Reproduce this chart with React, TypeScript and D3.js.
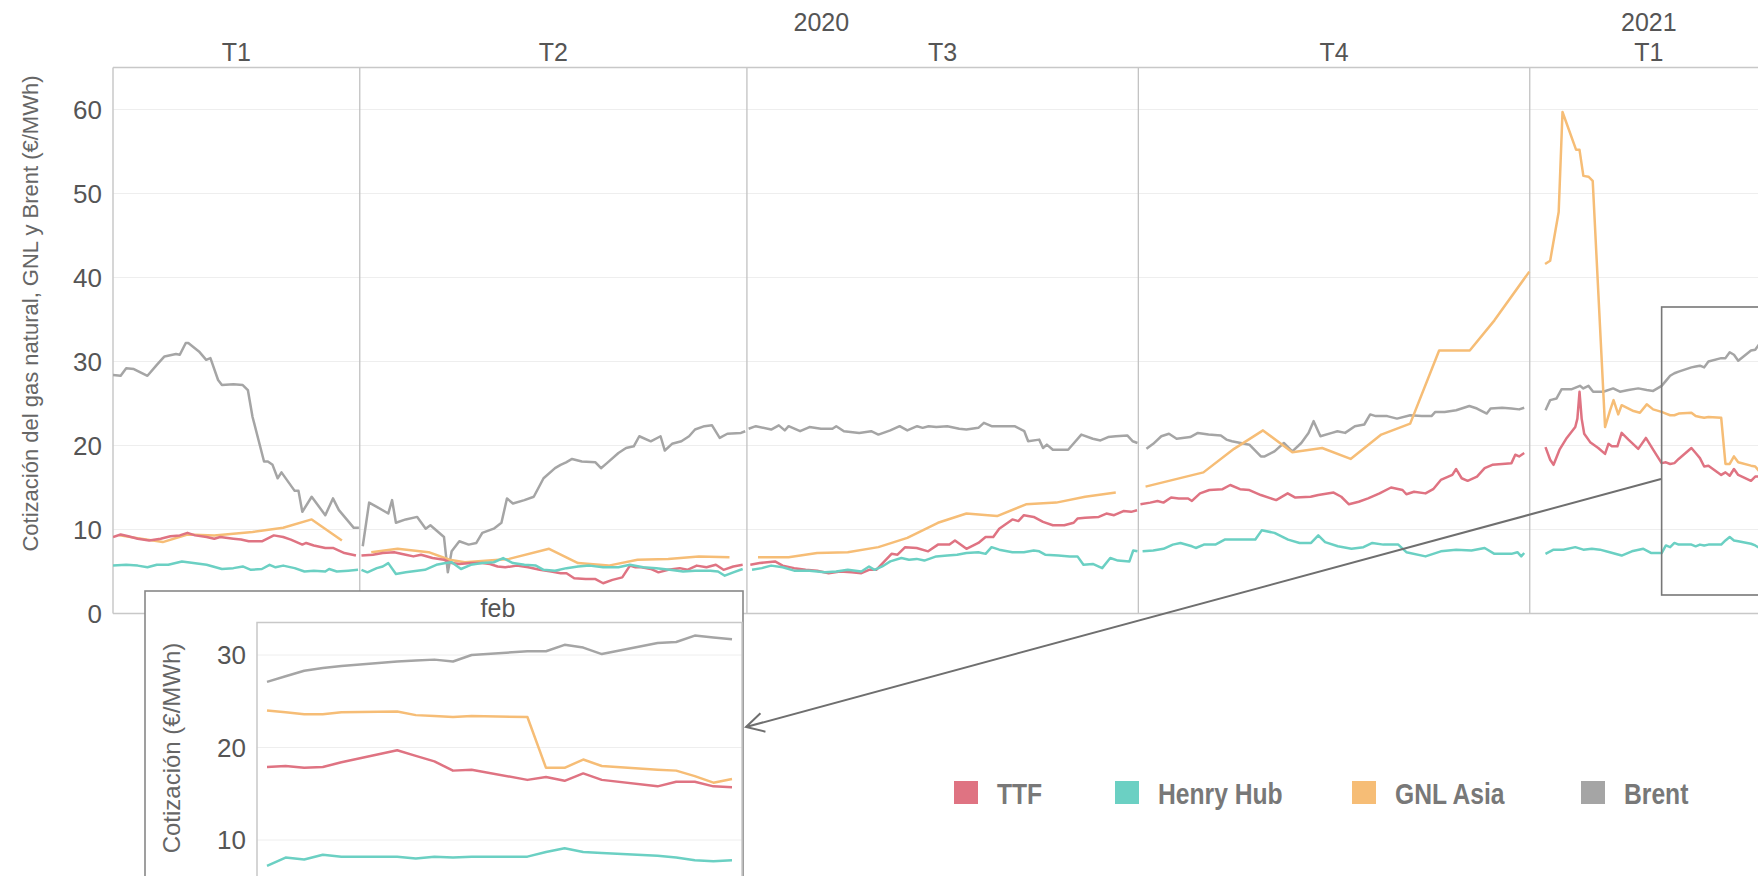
import * as d3 from 'd3';

// Inicio y fin del eje temporal principal
const INICIO = new Date(2020, 1, 3);
const FIN = new Date(2021, 1, 26);

// [días desde el 3-feb-2020, €/MWh]  (hasta finales de enero 2021; febrero va aparte)
const brent: [number, number][] = [
  [0, 28.4], [1.8, 28.3], [3.1, 29.2], [4.9, 29.1], [8.1, 28.3], [10.3, 29.6], [12.1, 30.6], [14.8, 30.9], [15.7, 30.8],
  [17.1, 32.2], [17.7, 32.2], [20.2, 31.2], [21.9, 30.2], [22.9, 30.4], [24.7, 27.8], [25.6, 27.2], [28.3, 27.3],
  [30.5, 27.2], [31.7, 26.6], [32.8, 23.4], [35.5, 18.1], [36.4, 18.1], [37.5, 17.7], [38.7, 16.1], [39.6, 16.8],
  [42.7, 14.6], [43.6, 14.6], [44.5, 12.1], [46.7, 13.9], [49.9, 11.7], [51.7, 13.7], [53.1, 12.3], [56.6, 10.2], [57.8, 10.2],
  [58.7, 8.0], [60.2, 13.2], [62.0, 12.7], [64.7, 11.9], [65.6, 13.5], [66.5, 10.8], [68.8, 11.2], [71.5, 11.5], [73.5, 10.1],
  [74.6, 10.5], [77.8, 9.1], [78.7, 4.9], [79.6, 7.4], [81.4, 8.6], [83.6, 8.2], [85.4, 8.4], [86.8, 9.6], [89.5, 10.1],
  [91.3, 10.8], [92.6, 13.7], [94.0, 13.1], [96.7, 13.5], [98.9, 13.9], [101.2, 16.1], [103.9, 17.3], [105.2, 17.7],
  [106.5, 18.0], [107.9, 18.4], [110.2, 18.1], [113.4, 18.0], [114.7, 17.3], [116.1, 17.9], [118.8, 19.1], [120.6, 19.7],
  [122.4, 19.9], [123.7, 21.1], [126.4, 20.5], [128.7, 21.1], [129.7, 19.4], [131.4, 20.2], [133.6, 20.5], [135.4, 21.1],
  [136.8, 21.9], [139.0, 22.3], [140.8, 22.4], [142.6, 20.9], [144.4, 21.4], [147.6, 21.5], [148.6, 21.7],
  [149.4, 22.0], [151.1, 22.3], [154.7, 21.9], [156.5, 22.4], [157.9, 21.8], [158.8, 22.3], [161.5, 21.7], [163.7, 22.2],
  [166.4, 22.0], [169.1, 22.0], [170.0, 22.3], [171.8, 21.7], [175.4, 21.5], [178.2, 21.7], [179.9, 21.3], [182.7, 21.8],
  [184.9, 22.3], [186.7, 21.8], [189.0, 22.3], [190.3, 22.1], [191.7, 22.3], [193.5, 22.2], [196.1, 22.3], [198.9, 22.0],
  [200.6, 21.9], [203.4, 22.1], [204.7, 22.7], [206.5, 22.3], [209.3, 22.3], [211.9, 22.3], [214.2, 21.7], [215.1, 20.5],
  [217.7, 20.7], [218.6, 19.7], [219.5, 20.1], [220.9, 19.5], [224.5, 19.5], [227.6, 21.3], [230.3, 20.8], [232.1, 20.6],
  [233.9, 21.0], [235.7, 21.1], [238.4, 21.2], [239.7, 20.5], [240.8, 20.3],
  [242.9, 19.6], [244.5, 20.2], [246.4, 21.1], [248.2, 21.4], [250.0, 20.8], [253.2, 21.0], [255.0, 21.5], [257.5, 21.3],
  [260.4, 21.2], [261.7, 20.7], [263.0, 20.5], [267.1, 20.1], [269.8, 18.7], [270.7, 18.7], [273.0, 19.3], [275.2, 20.3],
  [277.2, 19.3], [279.3, 20.3], [281.0, 21.5], [282.2, 22.9], [283.8, 21.1], [286.5, 21.5], [287.8, 21.7], [289.6, 21.5],
  [291.9, 22.3], [294.1, 22.5], [295.5, 23.7], [296.8, 23.5], [299.5, 23.5], [301.8, 23.2], [304.9, 23.6], [307.6, 23.5],
  [309.9, 23.5], [310.8, 24.0], [313.0, 24.0], [315.7, 24.2], [318.8, 24.7], [320.6, 24.4], [322.9, 23.8], [323.8, 24.4],
  [326.5, 24.5], [328.7, 24.4], [330.5, 24.3], [331.7, 24.5],
  [336.7, 24.2], [337.8, 25.4], [339.3, 25.6], [340.5, 26.7], [342.9, 26.7], [344.8, 27.1], [345.6, 26.8], [346.8, 27.1],
  [347.9, 26.4], [350.3, 26.4], [352.6, 26.8], [354.2, 26.4], [356.2, 26.6], [358.5, 26.8], [360.5, 26.6], [362.0, 26.5],
];

const ttf: [number, number][] = [
  [0, 9.1], [1.8, 9.4], [3.6, 9.2], [5.8, 8.9], [8.5, 8.7], [11.2, 8.9], [13.5, 9.2], [15.7, 9.3], [17.5, 9.6], [19.3, 9.3],
  [22.0, 9.1], [23.8, 8.9], [25.2, 9.1], [28.3, 8.9], [30.1, 8.8], [31.9, 8.6], [33.3, 8.6], [35.0, 8.6], [37.8, 9.3],
  [40.0, 9.1], [41.8, 8.8], [44.5, 8.2], [45.4, 8.4], [47.2, 8.1], [49.9, 7.8], [51.7, 7.8], [54.4, 7.2], [57.1, 6.9],
  [58.4, 6.9], [61.1, 7.0], [63.4, 7.2], [66.1, 7.3], [68.8, 7.0], [70.6, 6.8], [72.4, 7.0], [75.1, 6.6], [77.8, 6.4],
  [79.6, 6.0], [81.4, 5.9], [84.1, 6.0], [86.8, 6.0], [88.6, 5.9], [90.4, 5.6], [92.2, 5.5], [94.9, 5.7], [97.6, 5.5],
  [100.3, 5.2], [103.0, 5.0], [105.2, 4.8], [106.6, 4.8], [108.4, 4.2], [111.1, 4.1], [113.4, 4.1], [115.2, 3.6],
  [117.4, 4.0], [119.7, 4.3], [121.5, 5.7], [122.8, 5.5], [124.2, 5.5], [126.4, 5.3], [128.2, 4.9], [130.5, 5.2],
  [133.2, 5.4], [135.0, 5.2], [137.2, 5.7], [139.5, 5.5], [141.7, 5.8], [143.5, 5.2], [145.8, 5.6], [148.0, 5.8],
  [149.8, 5.8], [152.0, 6.0], [155.6, 6.2], [157.4, 5.7], [160.1, 5.4], [162.8, 5.2], [165.5, 5.1], [168.2, 4.8],
  [170.9, 5.0], [173.6, 4.9], [175.9, 4.8], [177.7, 5.2], [179.4, 5.2], [181.7, 6.4], [183.0, 7.1], [184.4, 7.0],
  [186.2, 7.9], [188.9, 7.8], [191.6, 7.4], [193.9, 8.2], [196.6, 8.2], [197.9, 8.7], [200.6, 7.7], [203.4, 8.4],
  [205.1, 9.1], [206.9, 9.1], [208.3, 10.1], [211.4, 11.2], [212.8, 11.0], [214.1, 11.7], [216.4, 11.5], [218.6, 10.9],
  [220.9, 10.5], [223.6, 10.5], [225.8, 10.8], [226.7, 11.3], [228.5, 11.4], [231.7, 11.5], [233.5, 11.9], [235.3, 11.7],
  [237.5, 12.2], [239.3, 12.1], [240.7, 12.3],
  [241.5, 13.0], [243.8, 13.2], [245.5, 13.4], [246.9, 13.2], [248.7, 13.8], [250.5, 13.7], [252.7, 13.7], [253.6, 13.4],
  [255.5, 14.3], [257.7, 14.7], [260.8, 14.8], [262.6, 15.3], [264.9, 14.8], [267.1, 14.7], [269.8, 14.1], [273.4, 13.5],
  [276.1, 14.3], [277.9, 13.8], [281.5, 13.9], [283.3, 14.1], [286.9, 14.4], [288.7, 13.9], [290.5, 13.0], [292.8, 13.3],
  [295.0, 13.7], [297.7, 14.3], [300.4, 15.0], [303.1, 14.7], [304.0, 14.2], [305.8, 14.5], [308.5, 14.3], [310.3, 14.8],
  [312.1, 15.9], [314.8, 16.5], [315.7, 17.2], [317.0, 16.1], [318.4, 15.8], [320.6, 16.3], [322.4, 17.3], [324.2, 17.7],
  [326.5, 17.8], [328.7, 17.9], [329.6, 18.9], [330.5, 18.7], [331.7, 19.1],
  [336.7, 19.8], [337.8, 18.3], [338.6, 17.7], [340.0, 19.5], [341.7, 20.9], [343.7, 22.2], [344.2, 23.2], [344.7, 26.4],
  [345.2, 23.2], [345.8, 21.4], [347.2, 20.4], [349.1, 19.7], [350.7, 19.0], [351.5, 20.2], [352.3, 19.9], [353.6, 19.9],
  [354.6, 21.5], [356.2, 20.7], [358.5, 19.6], [360.3, 20.9], [362.0, 19.5],
];

const henryHub: [number, number][] = [
  [0, 5.7], [3.1, 5.8], [5.8, 5.7], [8.1, 5.5], [10.3, 5.8], [13.0, 5.8], [16.2, 6.2], [18.9, 6.0], [22.0, 5.8], [25.6, 5.3],
  [28.3, 5.4], [30.5, 5.6], [32.4, 5.2], [35.0, 5.3], [36.8, 5.8], [38.2, 5.5], [40.0, 5.7], [42.7, 5.4], [45.0, 5.0],
  [47.2, 5.1], [49.9, 5.0], [50.8, 5.3], [52.6, 5.0], [55.3, 5.1], [57.6, 5.2],
  [58.4, 5.2], [59.8, 4.9], [62.0, 5.4], [63.4, 5.6], [64.7, 6.0], [66.5, 4.7], [68.8, 4.9], [71.5, 5.1], [73.3, 5.2],
  [76.0, 5.8], [78.2, 6.0], [79.6, 6.1], [81.8, 5.3], [84.1, 5.8], [86.8, 6.0], [89.5, 6.1], [91.7, 6.6], [94.0, 6.0],
  [96.7, 5.8], [99.4, 5.7], [101.2, 5.2], [103.9, 5.1], [106.6, 5.4], [109.3, 5.6], [112.0, 5.7], [115.2, 5.5], [118.8, 5.5],
  [121.5, 5.8], [124.6, 5.5], [127.7, 5.4], [130.9, 5.2], [134.0, 5.0], [136.8, 5.1], [140.4, 5.1], [142.2, 5.0],
  [143.8, 4.5], [145.8, 4.9], [148.0, 5.3],
  [150.2, 5.2], [152.5, 5.4], [154.7, 5.7], [157.4, 5.5], [160.1, 5.1], [163.7, 5.1], [167.3, 4.9], [170.0, 5.0],
  [172.7, 5.2], [175.9, 5.0], [177.7, 5.6], [179.0, 5.2], [180.8, 5.6], [182.7, 6.2], [185.3, 6.6], [187.1, 6.4],
  [188.9, 6.5], [190.7, 6.3], [193.5, 6.8], [196.1, 6.9], [198.4, 7.0], [200.6, 7.2], [203.4, 7.3], [205.1, 7.1],
  [206.5, 7.9], [208.3, 7.6], [211.4, 7.3], [214.1, 7.3], [216.4, 7.5], [217.7, 7.4], [219.1, 7.0], [222.2, 6.9],
  [224.9, 6.8], [226.7, 6.8], [228.1, 5.8], [230.3, 5.9], [232.5, 5.4], [234.4, 6.6], [236.2, 6.3], [238.9, 6.2],
  [239.8, 7.5], [240.8, 7.4],
  [242.0, 7.4], [244.5, 7.5], [246.9, 7.7], [249.1, 8.2], [250.9, 8.4], [253.6, 8.0], [254.5, 7.8], [256.4, 8.2],
  [259.1, 8.2], [261.3, 8.8], [264.5, 8.8], [268.5, 8.8], [270.0, 9.9], [273.0, 9.6], [276.2, 8.8], [278.9, 8.4],
  [281.6, 8.4], [283.3, 9.3], [284.9, 8.5], [287.9, 8.0], [291.1, 7.7], [293.9, 7.9], [296.0, 8.4], [298.6, 8.2],
  [302.1, 8.2], [304.0, 7.3], [308.5, 6.8], [312.1, 7.4], [315.7, 7.6], [319.3, 7.5], [322.4, 7.8], [324.7, 7.1],
  [328.7, 7.1], [330.1, 7.3], [331.0, 6.8], [331.7, 7.2],
  [336.7, 7.1], [338.6, 7.6], [340.9, 7.6], [343.7, 7.9], [345.6, 7.6], [347.6, 7.7], [349.5, 7.6], [351.8, 7.3],
  [354.6, 6.9], [357.0, 7.4], [359.7, 7.7], [361.6, 7.2],
];

const gnlAsia: [number, number][] = [
  [1.5, 9.3], [11.7, 8.5], [17.5, 9.4], [23.8, 9.3], [32.8, 9.7], [40.0, 10.2], [46.7, 11.2], [53.8, 8.7],
  [60.7, 7.3], [66.9, 7.7], [74.2, 7.3], [79.1, 6.4], [82.7, 6.1], [93.1, 6.5], [102.5, 7.7], [109.3, 6.0], [116.5, 5.7],
  [123.3, 6.4], [130.5, 6.5], [137.7, 6.8], [144.9, 6.7],
  [151.6, 6.7], [158.8, 6.7], [165.5, 7.2], [172.7, 7.3], [179.9, 7.9], [186.7, 9.0], [193.9, 10.8], [200.6, 11.9],
  [207.8, 11.6], [214.6, 13.0], [221.7, 13.2], [228.5, 13.9], [235.7, 14.4],
  [242.7, 15.1], [256.3, 16.8], [263.5, 19.6], [270.3, 21.8], [277.2, 19.2], [284.2, 19.7], [290.9, 18.4], [298.1, 21.3],
  [304.9, 22.6], [311.7, 31.3], [318.9, 31.3], [324.7, 34.9], [332.9, 40.7],
  [336.6, 41.6], [337.8, 42.0], [339.8, 47.8], [340.7, 59.7], [343.9, 55.2], [344.7, 55.2], [345.6, 52.1], [346.8, 52.0],
  [347.8, 51.5], [350.7, 22.2], [351.9, 24.2], [352.7, 25.4], [353.8, 23.7], [354.6, 24.8], [357.4, 24.1], [358.9, 23.9],
  [360.5, 24.9], [362.0, 24.3],
];

// febrero de 2021 (detalle)
const diasFeb = [1, 2, 3, 4, 5, 8, 9, 10, 11, 12, 15, 16, 17, 18, 19, 22, 23, 24, 25, 26];
const brentFeb = [27.1, 27.7, 28.3, 28.6, 28.8, 29.3, 29.4, 29.5, 29.3, 30.0, 30.4, 30.4, 31.1, 30.8, 30.1, 31.3, 31.4, 32.1, 31.9, 31.7];
const gnlFeb = [24.0, 23.8, 23.6, 23.6, 23.8, 23.9, 23.5, 23.4, 23.3, 23.4, 23.3, 17.8, 17.8, 18.7, 18.0, 17.6, 17.5, 16.9, 16.2, 16.6];
const ttfFeb = [17.9, 18.0, 17.8, 17.9, 18.4, 19.7, 19.1, 18.5, 17.5, 17.6, 16.5, 16.8, 16.4, 17.2, 16.5, 15.8, 16.3, 16.3, 15.8, 15.7];
const henryFeb = [7.2, 8.1, 7.9, 8.4, 8.2, 8.2, 8.0, 8.2, 8.1, 8.2, 8.2, 8.7, 9.1, 8.7, 8.6, 8.3, 8.1, 7.8, 7.7, 7.8];

const series = [
  { nombre: 'Brent', color: '#a5a5a5', datos: brent, feb: brentFeb },
  { nombre: 'GNL Asia', color: '#f6bd76', datos: gnlAsia, feb: gnlFeb },
  { nombre: 'TTF', color: '#df7382', datos: ttf, feb: ttfFeb },
  { nombre: 'Henry Hub', color: '#6bd0c3', datos: henryHub, feb: henryFeb },
];
const leyenda = ['TTF', 'Henry Hub', 'GNL Asia', 'Brent'];
const leyendaX = [954, 1115, 1352, 1581];

const trimestres = [
  { t: 'T1', desde: INICIO, hasta: new Date(2020, 3, 1) },
  { t: 'T2', desde: new Date(2020, 3, 1), hasta: new Date(2020, 6, 1) },
  { t: 'T3', desde: new Date(2020, 6, 1), hasta: new Date(2020, 9, 1) },
  { t: 'T4', desde: new Date(2020, 9, 1), hasta: new Date(2021, 0, 1) },
  { t: 'T1', desde: new Date(2021, 0, 1), hasta: FIN },
];
const anios = [
  { a: '2020', desde: INICIO, hasta: new Date(2021, 0, 1) },
  { a: '2021', desde: new Date(2021, 0, 1), hasta: FIN },
];

const FUENTE = "'Liberation Sans', Arial, sans-serif";

type Punto = [Date, number];

export default function App() {
  const left = 113, right = 1768, top = 67.5, bottom = 613.5;
  const x = d3.scaleTime().domain([INICIO, FIN]).range([left, right]);
  const y = d3.scaleLinear().domain([0, 65]).range([bottom, top]);

  // detalle
  const xi = d3.scaleTime().domain([new Date(2021, 1, 1), new Date(2021, 1, 26)]).range([267, 732]);
  const yi = d3.scaleLinear().domain([10, 30]).range([840, 655]);

  const fecha = (d: number) => new Date(INICIO.getTime() + d * 864e5);
  const trimestre = (f: Date) => f.getFullYear() * 4 + Math.floor(f.getMonth() / 3);

  const lineaMain = d3.line<Punto>().x(p => x(p[0])).y(p => y(p[1]));
  const lineaIn = d3.line<Punto>().x(p => xi(p[0])).y(p => yi(p[1]));

  const puntos = series.map(s => {
    const feb: Punto[] = diasFeb.map((dd, i) => [new Date(2021, 1, dd), s.feb[i]]);
    const todos: Punto[] = s.datos.map(([d, v]) => [fecha(d), v] as Punto).concat(feb);
    // Tableau corta la línea en cada trimestre
    const tramos = d3.groups(todos, p => trimestre(p[0])).map(g => g[1]);
    return { ...s, tramos, febPts: feb };
  });

  // flecha desde el recuadro de febrero hasta el detalle
  const a0 = [1661, 479], a1 = [746, 727];
  const dx = a0[0] - a1[0], dy = a0[1] - a1[1];
  const len = Math.hypot(dx, dy);
  const ux = dx / len, uy = dy / len;
  const ala = (ang: number) => {
    const c = Math.cos(ang), s = Math.sin(ang);
    return [a1[0] + 20 * (ux * c - uy * s), a1[1] + 20 * (ux * s + uy * c)];
  };
  const w1 = ala(0.5), w2 = ala(-0.5);

  const xFeb = x(new Date(2021, 1, 1));

  return (
    <svg width={1758} height={876} style={{ position: 'absolute', left: 0, top: 0, background: '#fff' }}
      fontFamily={FUENTE}>
      <defs>
        <clipPath id="cp-main"><rect x={left} y={top} width={right - left} height={bottom - top} /></clipPath>
        <clipPath id="cp-in"><rect x={257} y={622.5} width={485} height={300} /></clipPath>
      </defs>

      {/* cuadrícula */}
      {d3.range(10, 61, 10).map(v => (
        <line key={v} x1={left} x2={1758} y1={y(v)} y2={y(v)} stroke="#eeeeee" strokeWidth={1} />
      ))}

      {/* separadores de trimestre */}
      {trimestres.slice(1).map((q, i) => (
        <line key={i} x1={x(q.desde)} x2={x(q.desde)} y1={top} y2={bottom} stroke="#c2c2c2" strokeWidth={1.3} />
      ))}

      {/* marco */}
      <line x1={left} x2={left} y1={top} y2={bottom} stroke="#c8c8c8" strokeWidth={1.5} />
      <line x1={left} x2={1758} y1={top} y2={top} stroke="#c8c8c8" strokeWidth={1.5} />
      <line x1={left} x2={1758} y1={bottom} y2={bottom} stroke="#c8c8c8" strokeWidth={1.5} />

      {/* eje y */}
      {d3.range(0, 61, 10).map(v => (
        <text key={v} x={102} y={y(v)} textAnchor="end" dominantBaseline="central" fontSize={26} fill="#555">{v}</text>
      ))}
      <text transform={`translate(30,${(top + bottom) / 2 - 27}) rotate(-90)`} textAnchor="middle"
        dominantBaseline="central" fontSize={22} fill="#666">
        Cotización del gas natural, GNL y Brent (€/MWh)
      </text>

      {/* cabeceras */}
      {anios.map(a => (
        <text key={a.a} x={(x(a.desde) + x(a.hasta)) / 2} y={22} textAnchor="middle" dominantBaseline="central"
          fontSize={25} fill="#555">{a.a}</text>
      ))}
      {trimestres.map((q, i) => (
        <text key={i} x={(x(q.desde) + x(q.hasta)) / 2} y={52} textAnchor="middle" dominantBaseline="central"
          fontSize={25} fill="#555">{q.t}</text>
      ))}

      {/* series */}
      <g clipPath="url(#cp-main)">
        {puntos.map(s => s.tramos.map((tr, i) => (
          <path key={s.nombre + i} d={lineaMain(tr) || ''} fill="none" stroke={s.color} strokeWidth={2.5}
            strokeLinejoin="round" />
        )))}
      </g>

      {/* recuadro de febrero */}
      <rect x={xFeb} y={307} width={200} height={288} fill="none" stroke="#777" strokeWidth={1.6} />
      <line x1={a0[0]} y1={a0[1]} x2={a1[0]} y2={a1[1]} stroke="#6f6f6f" strokeWidth={2} />
      <polyline points={`${w1[0]},${w1[1]} ${a1[0]},${a1[1]} ${w2[0]},${w2[1]}`} fill="none" stroke="#6f6f6f"
        strokeWidth={2} />

      {/* detalle */}
      <rect x={145} y={591} width={598} height={320} fill="#fff" stroke="#888" strokeWidth={1.6} />
      <text x={498} y={608} textAnchor="middle" dominantBaseline="central" fontSize={25} fill="#555">feb</text>
      {[10, 20, 30].map(v => (
        <g key={v}>
          <line x1={257} x2={742} y1={yi(v)} y2={yi(v)} stroke="#eeeeee" />
          <text x={246} y={yi(v)} textAnchor="end" dominantBaseline="central" fontSize={26} fill="#555">{v}</text>
        </g>
      ))}
      <rect x={257} y={622.5} width={485} height={300} fill="none" stroke="#c8c8c8" strokeWidth={1.5} />
      <text transform="translate(171,748) rotate(-90)" textAnchor="middle" dominantBaseline="central" fontSize={24}
        fill="#666">Cotización (€/MWh)</text>
      <g clipPath="url(#cp-in)">
        {puntos.map(s => (
          <path key={s.nombre} d={lineaIn(s.febPts) || ''} fill="none" stroke={s.color} strokeWidth={2.5}
            strokeLinejoin="round" />
        ))}
      </g>

      {/* leyenda */}
      {leyenda.map((n, i) => {
        const s = series.find(z => z.nombre === n)!;
        return (
          <g key={n}>
            <rect x={leyendaX[i]} y={781} width={24} height={23} fill={s.color} />
            <text transform={`translate(${leyendaX[i] + 43},794) scale(0.85,1)`} dominantBaseline="central"
              fontSize={29} fontWeight="bold" fill="#787878">{n}</text>
          </g>
        );
      })}
    </svg>
  );
}
